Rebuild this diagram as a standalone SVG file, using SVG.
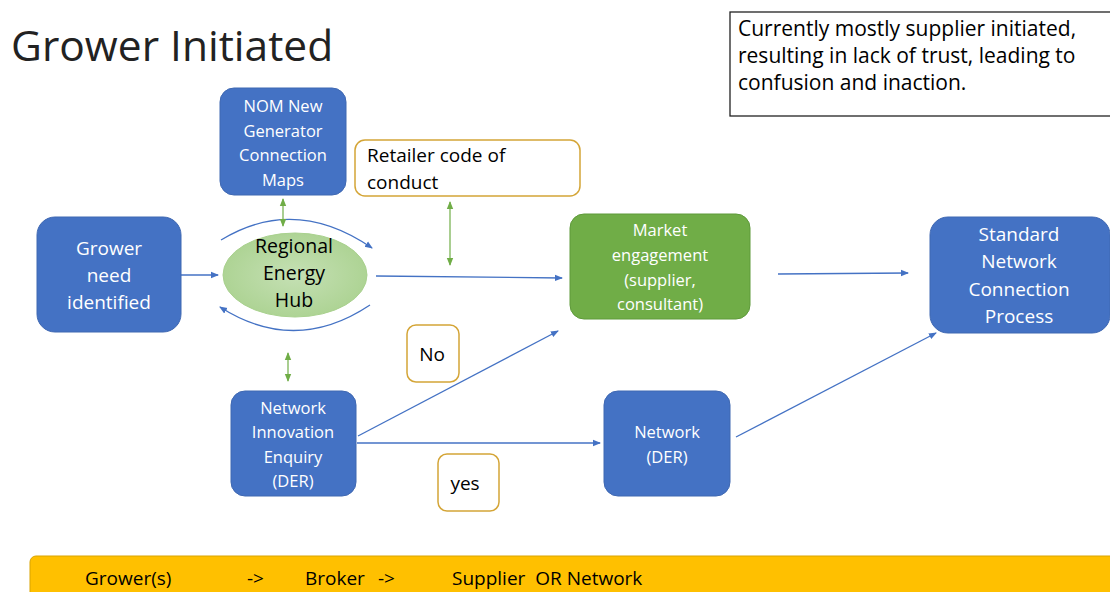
<svg xmlns="http://www.w3.org/2000/svg" width="1110" height="592" viewBox="0 0 1110 592">
<defs>
<marker id="ab" markerWidth="8" markerHeight="8" refX="7" refY="4" orient="auto" markerUnits="userSpaceOnUse"><path d="M0,0.8 L8,4 L0,7.2 Z" fill="#4472C4"/></marker>
<marker id="ag" markerWidth="8" markerHeight="8" refX="7" refY="4" orient="auto-start-reverse" markerUnits="userSpaceOnUse"><path d="M0,0.8 L8,4 L0,7.2 Z" fill="#70AD47"/></marker>
<radialGradient id="hubg" cx="0.5" cy="0.5" r="0.6"><stop offset="0" stop-color="#C5E0B4"/><stop offset="1" stop-color="#A9D18E"/></radialGradient>
<style>
text{font-family:"Open Sans","Liberation Sans",sans-serif}
.blue{fill:#4472C4;stroke:#3F68B2;stroke-width:1}
.green{fill:#70AD47;stroke:#5E9A3A;stroke-width:1}
.gold{fill:#fff;stroke:#D4A537;stroke-width:1.5}
.wt{fill:#fff;font-size:16.5px;text-anchor:middle}
.wl{fill:#fff;font-size:19px;text-anchor:middle}
.bt{fill:#000;font-size:19px}
.cb{stroke:#4472C4;stroke-width:1.3;fill:none;marker-end:url(#ab)}
.cg{stroke:#70AD47;stroke-width:1.2;fill:none;marker-start:url(#ag);marker-end:url(#ag)}
</style>
</defs>
<rect width="1110" height="592" fill="#fff"/>
<text x="11" y="61" style="font-size:42.5px;fill:#222" id="title">Grower Initiated</text>
<g id="note">
<rect x="730" y="12" width="382" height="104" fill="#fff" stroke="#222" stroke-width="1.3"/>
<text x="738" y="36" class="bt" style="font-size:21px">Currently mostly supplier initiated,</text>
<text x="738" y="63" class="bt" style="font-size:21px">resulting in lack of trust, leading to</text>
<text x="738" y="90" class="bt" style="font-size:21px">confusion and inaction.</text>
</g>
<g id="connectors">
<line x1="181" y1="275" x2="218" y2="275" class="cb"/>
<path d="M221,240 Q295,195 372,248" class="cb"/>
<path d="M370,305 Q295,355 220,307" class="cb"/>
<line x1="376" y1="276" x2="562" y2="278" class="cb"/>
<line x1="778" y1="274" x2="908" y2="273" class="cb"/>
<line x1="358" y1="436" x2="558" y2="331" class="cb"/>
<line x1="357" y1="443" x2="600" y2="443" class="cb"/>
<line x1="736" y1="437" x2="936" y2="333" class="cb"/>
<line x1="283" y1="199" x2="283" y2="226" class="cg"/>
<line x1="450" y1="202" x2="450" y2="265" class="cg"/>
<line x1="288" y1="353" x2="288" y2="381" class="cg"/>
</g>
<g id="nom">
<rect x="220" y="88" width="126" height="107" rx="14" class="blue"/>
<text x="283" y="112" class="wt">NOM New</text>
<text x="283" y="137" class="wt">Generator</text>
<text x="283" y="161" class="wt">Connection</text>
<text x="283" y="186" class="wt">Maps</text>
</g>
<g id="retailer">
<rect x="355" y="140" width="225" height="56" rx="10" class="gold"/>
<text x="367" y="162" class="bt">Retailer code of</text>
<text x="367" y="189" class="bt">conduct</text>
</g>
<g id="grower">
<rect x="37" y="217" width="144" height="115" rx="18" class="blue"/>
<text x="109" y="255" class="wl">Grower</text>
<text x="109" y="282" class="wl">need</text>
<text x="109" y="309" class="wl">identified</text>
</g>
<g id="hub">
<ellipse cx="295" cy="275" rx="72" ry="42" fill="url(#hubg)" stroke="#A9D18E"/>
<text x="294" y="253" class="bt" text-anchor="middle" style="font-size:19.5px">Regional</text>
<text x="294" y="280" class="bt" text-anchor="middle" style="font-size:19.5px">Energy</text>
<text x="294" y="307" class="bt" text-anchor="middle" style="font-size:19.5px">Hub</text>
</g>
<g id="market">
<rect x="570" y="214" width="180" height="105" rx="14" class="green"/>
<text x="660" y="236" class="wt">Market</text>
<text x="660" y="261" class="wt">engagement</text>
<text x="660" y="286" class="wt">(supplier,</text>
<text x="660" y="310" class="wt">consultant)</text>
</g>
<g id="standard">
<rect x="930" y="217" width="180" height="116" rx="18" class="blue"/>
<text x="1019" y="241" class="wl">Standard</text>
<text x="1019" y="268" class="wl">Network</text>
<text x="1019" y="296" class="wl">Connection</text>
<text x="1019" y="323" class="wl">Process</text>
</g>
<g id="no">
<rect x="407" y="325" width="52" height="57" rx="9" class="gold"/>
<text x="432" y="361" class="bt" text-anchor="middle">No</text>
</g>
<g id="enquiry">
<rect x="231" y="391" width="125" height="105" rx="14" class="blue"/>
<text x="293" y="414" class="wt">Network</text>
<text x="293" y="438" class="wt">Innovation</text>
<text x="293" y="463" class="wt">Enquiry</text>
<text x="293" y="487" class="wt">(DER)</text>
</g>
<g id="yes">
<rect x="438" y="454" width="61" height="57" rx="9" class="gold"/>
<text x="465" y="490" class="bt" text-anchor="middle">yes</text>
</g>
<g id="network">
<rect x="604" y="391" width="126" height="105" rx="14" class="blue"/>
<text x="667" y="438" class="wt">Network</text>
<text x="667" y="463" class="wt">(DER)</text>
</g>
<g id="bar">
<rect x="30" y="556" width="1090" height="50" rx="6" fill="#FFC000" stroke="#D9A300"/>
<text x="85" y="585" class="bt" style="font-size:19px">Grower(s)</text>
<text x="247" y="585" class="bt" style="font-size:19px">-&gt;</text>
<text x="305" y="585" class="bt" style="font-size:19px">Broker</text>
<text x="378" y="585" class="bt" style="font-size:19px">-&gt;</text>
<text x="452" y="585" class="bt" style="font-size:19px" xml:space="preserve">Supplier  OR Network</text>
</g>
</svg>
